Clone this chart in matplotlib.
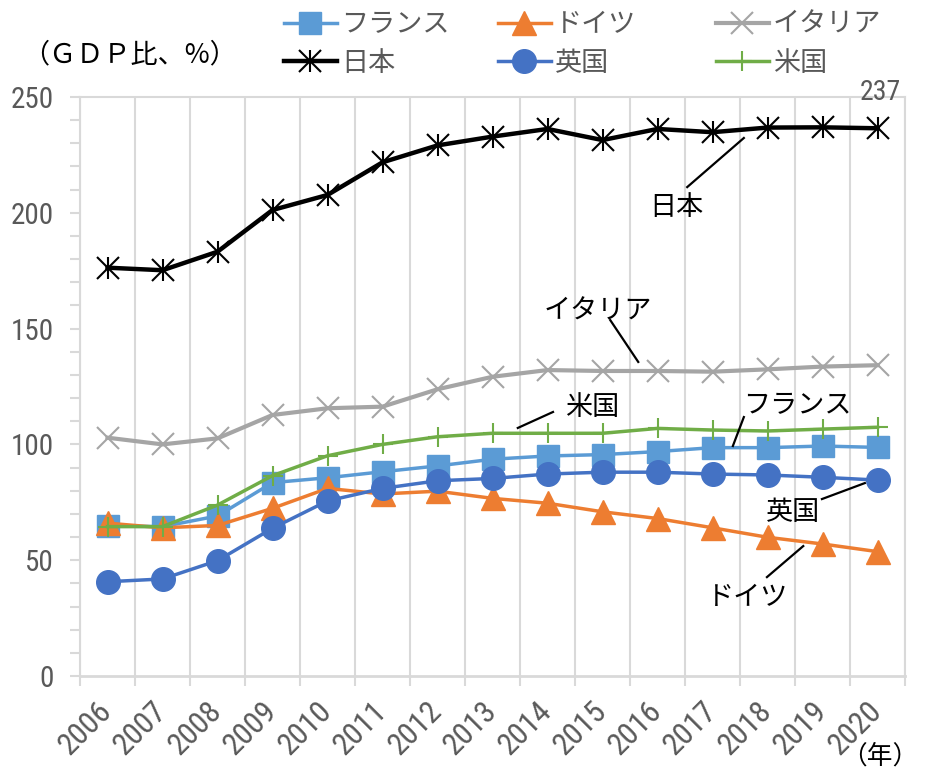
import matplotlib
matplotlib.use("Agg")
import matplotlib.pyplot as plt
from matplotlib.ticker import MultipleLocator, FixedLocator
from matplotlib.legend_handler import HandlerTuple
from matplotlib import font_manager

plt.rcParams['font.family'] = ['Noto Sans CJK JP', 'DejaVu Sans']

years = ["2006", "2007", "2008", "2009", "2010", "2011", "2012", "2013",
         "2014", "2015", "2016", "2017", "2018", "2019", "2020"]
france = [64.8, 64.5, 69.1, 83.5, 85.6, 88.2, 90.7, 93.6, 95.0, 95.6, 96.9, 98.6, 98.6, 99.3, 98.7]
germany = [66.0, 64.0, 65.0, 72.4, 81.0, 78.6, 79.8, 76.7, 74.6, 70.9, 68.0, 64.0, 59.9, 57.0, 53.7]
italy = [102.9, 100.0, 102.6, 112.7, 115.6, 116.3, 123.8, 129.2, 132.1, 131.7, 131.7, 131.4, 132.4, 133.6, 134.2]
japan = [176.3, 175.2, 183.2, 201.2, 207.7, 221.8, 229.1, 232.9, 236.2, 231.4, 236.2, 234.8, 236.8, 236.9, 236.5]
uk = [40.7, 41.9, 49.8, 63.8, 75.6, 81.0, 84.3, 85.3, 87.2, 88.0, 88.0, 87.2, 86.8, 85.8, 84.6]
usa = [64.5, 64.5, 73.8, 86.5, 95.1, 100.0, 103.3, 104.8, 104.8, 104.8, 106.9, 106.2, 105.8, 106.6, 107.4]
names = ["フランス", "ドイツ", "イタリア", "日本", "英国", "米国"]
last_label = "237"

GRID = "#D9D9D9"
TXT = "#595959"

available = {f.name for f in font_manager.fontManager.ttflist}
NUMFONT = [f for f in ["Liberation Sans Narrow", "Roboto Condensed", "Liberation Sans"] if f in available][:1] + ["Noto Sans CJK JP"]
numsize = 21 if NUMFONT[0] != "Liberation Sans" else 17

fig = plt.figure(figsize=(9.25, 7.7), dpi=100)
ax = fig.add_axes([80/925, 1-676/770, 825/925, 579/770])

x = list(range(len(years)))

lf, = ax.plot(x, france, color="#5B9BD5", lw=2.5, marker="s", ms=16, zorder=4)
lg, = ax.plot(x, germany, color="#ED7D31", lw=2.5, marker="^", ms=17, zorder=4)
li, = ax.plot(x, italy, color="#A5A5A5", lw=3, marker="x", ms=16, mew=1.5, zorder=3)
lj, = ax.plot(x, japan, color="black", lw=3.2, marker="x", ms=16, mew=1.5, zorder=5)
lj2, = ax.plot(x, japan, color="black", lw=0, marker="|", ms=16, mew=1.5, zorder=5)
lu, = ax.plot(x, uk, color="#4472C4", lw=2.5, marker="o", ms=17, zorder=4)
ls, = ax.plot(x, usa, color="#70AD47", lw=2.5, marker="+", ms=15, mew=1.5, zorder=4)

ax.set_xlim(-0.5, len(years) - 0.5)
ax.set_ylim(0, 250)
ax.yaxis.set_major_locator(MultipleLocator(50))
ax.yaxis.set_minor_locator(MultipleLocator(10))
ax.xaxis.set_major_locator(FixedLocator(x))
ax.xaxis.set_minor_locator(FixedLocator([i - 0.5 for i in range(len(years) + 1)]))
ax.set_xticklabels(years, rotation=45, ha="right", va="center", rotation_mode="anchor")
ax.tick_params(axis="x", which="major", length=0, pad=22, labelsize=numsize + 1.5, labelcolor=TXT)
ax.tick_params(axis="x", which="minor", length=7, width=1.5, color=GRID)
ax.tick_params(axis="y", which="both", length=7, width=1.5, color=GRID, labelsize=numsize,
               labelcolor=TXT, pad=12)
for lab in ax.get_xticklabels() + ax.get_yticklabels():
    lab.set_family(NUMFONT)
ax.grid(True, axis="x", which="minor", color=GRID, lw=1.5)
ax.set_axisbelow(True)
for s in ax.spines.values():
    s.set_color(GRID)
    s.set_linewidth(1.5)
ax.spines["bottom"].set_linewidth(2)

# leader annotations
ann = [
    ("日本", (10.35, 202.5), (10.54, 211.1), (11.57, 232.3)),
    ("イタリア", (8.92, 157.6), (9.14, 153.7), (9.65, 135.6)),
    ("米国", (8.81, 116.1), (7.46, 107.1), (8.10, 114.0)),
    ("フランス", (12.54, 116.6), (11.57, 111.8), (11.37, 99.3)),
    ("英国", (12.46, 70.4), (12.99, 76.4), (13.77, 83.3)),
    ("ドイツ", (11.63, 33.7), (11.99, 42.7), (12.65, 56.1)),
]
for label, tp, p1, p2 in ann:
    ax.text(tp[0], tp[1], label, fontsize=19.5, color="black", ha="center", va="center", zorder=6)
    ax.plot([p1[0], p2[0]], [p1[1], p2[1]], color="black", lw=1.6, zorder=6)

ax.text(x[-1] + 0.05, 248.7, last_label, fontsize=numsize - 1, color=TXT, ha="center",
        va="baseline", family=NUMFONT)

# legends: three columns
cols = [((lf, ), names[0], (lj, lj2), names[3]),
        ((lg, ), names[1], (lu, ), names[4]),
        ((li, ), names[2], (ls, ), names[5])]
xs = [280, 494, 712]
for (h1, n1, h2, n2), xp in zip(cols, xs):
    leg = fig.legend([h1, h2], [n1, n2], loc="upper left", bbox_to_anchor=(xp/925, 1 - 7/770),
                     frameon=False, fontsize=19.5, handlelength=1.95, handletextpad=0.15,
                     labelspacing=0.44, borderaxespad=0, borderpad=0.15,
                     handler_map={tuple: HandlerTuple(ndivide=1, pad=0)})
    for t in leg.get_texts():
        t.set_color(TXT)

fig.text(22/925, 1-55/770, "（ＧＤＰ比、%）", fontsize=19.5, color="black", ha="left", va="center")
fig.text(918/925, 1-757/770, "（年）", fontsize=18.5, color="black", ha="right", va="center")

fig.savefig("out.png", dpi=100)
